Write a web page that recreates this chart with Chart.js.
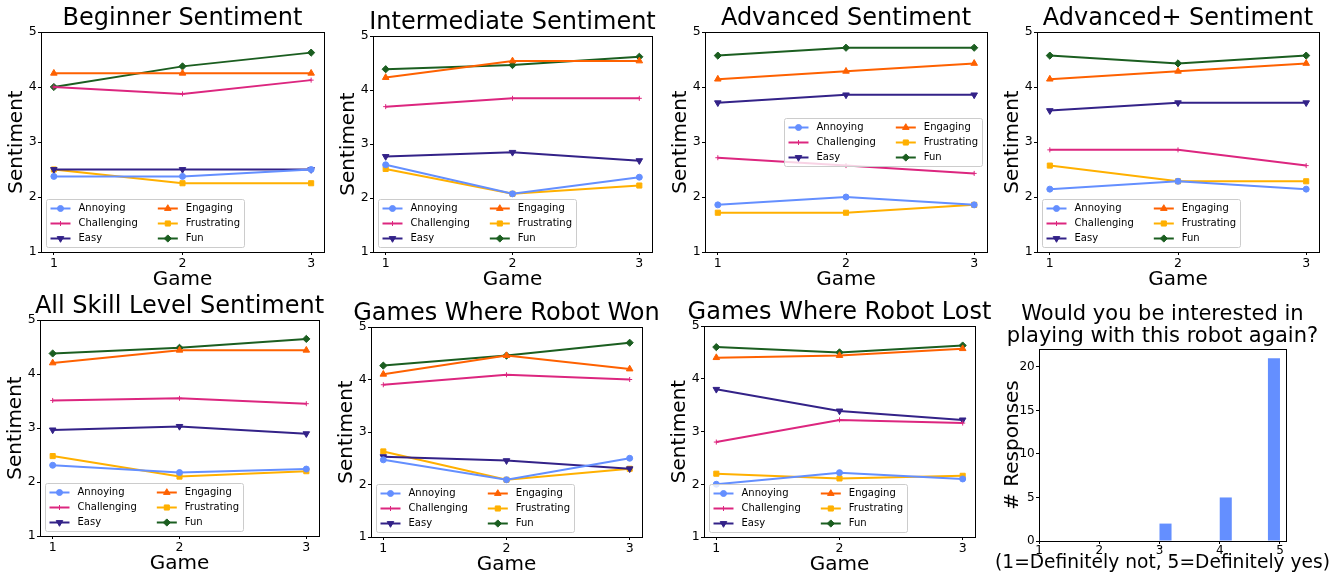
<!DOCTYPE html>
<html>
<head>
<meta charset="utf-8">
<script src="https://cdn.jsdelivr.net/npm/chart.js@4/dist/chart.umd.min.js"></script>
<style>
  html, body { margin: 0; padding: 0; background: #fff; }
  #fig { position: relative; width: 1332px; height: 575px; overflow: hidden; background: #fff; }
  #fig canvas { position: absolute; }
</style>
</head>
<body>
<div id="fig"></div>
<script>
// ---- data ----
var games = [1, 2, 3];
var traits = ['Annoying', 'Challenging', 'Easy', 'Engaging', 'Frustrating', 'Fun'];
var sentimentTicks = [1, 2, 3, 4, 5];

// rows follow the order of `traits`, columns follow `games`
var beginner = [
    [2.375, 2.375, 2.5],
    [4.0, 3.875, 4.125],
    [2.5, 2.5, 2.5],
    [4.25, 4.25, 4.25],
    [2.5, 2.25, 2.25],
    [4.0, 4.375, 4.625]
];
var intermediate = [
    [2.615, 2.077, 2.385],
    [3.692, 3.846, 3.846],
    [2.769, 2.846, 2.692],
    [4.231, 4.538, 4.538],
    [2.538, 2.077, 2.231],
    [4.385, 4.462, 4.615]
];
var advanced = [
    [1.857, 2.0, 1.857],
    [2.714, 2.571, 2.429],
    [3.714, 3.857, 3.857],
    [4.143, 4.286, 4.429],
    [1.714, 1.714, 1.857],
    [4.571, 4.714, 4.714]
];
var advancedPlus = [
    [2.143, 2.286, 2.143],
    [2.857, 2.857, 2.571],
    [3.571, 3.714, 3.714],
    [4.143, 4.286, 4.429],
    [2.571, 2.286, 2.286],
    [4.571, 4.429, 4.571]
];
var allLevels = [
    [2.31, 2.175, 2.24],
    [3.51, 3.55, 3.45],
    [2.965, 3.03, 2.895],
    [4.205, 4.44, 4.44],
    [2.48, 2.10, 2.20],
    [4.38, 4.485, 4.65]
];
var robotWon = [
    [2.47, 2.09, 2.5],
    [3.9, 4.09, 4.0],
    [2.53, 2.455, 2.3],
    [4.1, 4.455, 4.2],
    [2.63, 2.09, 2.3],
    [4.265, 4.455, 4.7]
];
var robotLost = [
    [2.0, 2.22, 2.1],
    [2.8, 3.22, 3.16],
    [3.8, 3.39, 3.22],
    [4.4, 4.44, 4.57],
    [2.2, 2.11, 2.16],
    [4.6, 4.5, 4.63]
];

// histogram of "play again" answers (bin centres, bin width 0.2)
var responseBins = [3.1, 4.1, 4.9];
var responseCounts = [2, 5, 21];
var responseTicks = [1, 2, 3, 4, 5];
var countTicks = [0, 5, 10, 15, 20];

// ---- styles ----
var colors = ['#648FFF', '#DC267F', '#332288', '#FE6100', '#FFB000', '#1B5E20'];
var markers = [
    { style: 'circle', r: 3, rot: 0 },
    { style: 'cross', r: 2.5, rot: 0 },
    { style: 'triangle', r: 3.8, rot: 180 },
    { style: 'triangle', r: 3.8, rot: 0 },
    { style: 'rect', r: 3.6, rot: 0 },
    { style: 'rectRot', r: 3.6, rot: 0 }
];

// plot boxes [left, top, right, bottom] in page pixels
var panels = [
    { title: 'Beginner Sentiment', values: beginner, box: [41, 32, 324, 252], legend: 'lower left' },
    { title: 'Intermediate Sentiment', values: intermediate, box: [373, 36, 652, 252], legend: 'lower left' },
    { title: 'Advanced Sentiment', values: advanced, box: [705, 32, 987, 252], legend: 'center right' },
    { title: 'Advanced+ Sentiment', values: advancedPlus, box: [1037, 32, 1319, 252], legend: 'lower left' },
    { title: 'All Skill Level Sentiment', values: allLevels, box: [40, 320, 319, 536], legend: 'lower left' },
    { title: 'Games Where Robot Won', values: robotWon, box: [371, 327, 642, 537], legend: 'lower left' },
    { title: 'Games Where Robot Lost', values: robotLost, box: [704, 326, 975, 537], legend: 'lower left' }
];
var histBox = [1039, 349, 1286, 541];

var AXW = 44;   // room left of the plot for y ticks + label (mirrored on the right)
var TOP = 64;   // room above the plot for the title

Chart.defaults.font.family = '"DejaVu Sans", sans-serif';
Chart.defaults.color = '#000';

var fig = document.getElementById('fig');

function addCanvas(x, y, w, h) {
    var c = document.createElement('canvas');
    c.width = w;
    c.height = h;
    c.style.left = x + 'px';
    c.style.top = y + 'px';
    c.style.width = w + 'px';
    c.style.height = h + 'px';
    fig.appendChild(c);
    return c;
}

function titleOpts(text, size, lh) {
    var lines = Array.isArray(text) ? text.length : 1;
    var pb = 6 + 0.3 * size - lh / 2;
    return {
        display: true,
        text: text,
        color: '#000',
        font: { size: size, weight: 'normal', lineHeight: lh + 'px' },
        padding: { top: TOP - pb - lines * lh, bottom: pb }
    };
}

function axis(min, max, ticks, label, o) {
    return {
        type: 'linear',
        min: min,
        max: max,
        offset: false,
        afterBuildTicks: function(s) {
            s.ticks = ticks.map(function(v) { return { value: v }; });
        },
        afterFit: function(s) {
            if (s.isHorizontal()) s.height = o.size; else s.width = o.size;
        },
        border: { display: false },
        grid: { display: true, offset: false, drawOnChartArea: false, drawTicks: true, tickLength: 3, color: '#000' },
        ticks: {
            color: '#000',
            font: { size: o.tickSize },
            padding: o.tickPad,
            maxRotation: 0,
            autoSkip: false,
            callback: function(v) { return String(v); }
        },
        title: {
            display: !!label,
            text: label,
            color: '#000',
            font: { size: 20, lineHeight: 1.2 },
            padding: o.titlePad || 0
        }
    };
}

// empty axis on the right so the title stays centred over the plot
function spacer() {
    return {
        type: 'linear',
        position: 'right',
        display: true,
        afterFit: function(s) { s.width = AXW; },
        border: { display: false },
        grid: { display: false },
        ticks: { display: false }
    };
}

var framePlugin = {
    id: 'frame',
    afterDatasetsDraw: function(chart) {
        var ctx = chart.ctx, a = chart.chartArea;
        ctx.save();
        ctx.strokeStyle = '#000';
        ctx.lineWidth = 1;
        var l = Math.round(a.left) + 0.5, t = Math.round(a.top) + 0.5;
        var r = Math.round(a.right) + 0.5, b = Math.round(a.bottom) + 0.5;
        ctx.strokeRect(l, t, r - l, b - t);
        ctx.restore();
    }
};

var legendPlugin = {
    id: 'boxLegend',
    afterDatasetsDraw: function(chart, args, opts) {
        if (!opts || !opts.loc) return;
        var ctx = chart.ctx, a = chart.chartArea;
        var sets = chart.data.datasets;
        var fs = 10, pad = 4, handle = 20, gap = 8, colGap = 20, rowGap = 5, rowH = 10, axPad = 5;
        var rows = Math.ceil(sets.length / 2);
        ctx.save();
        ctx.font = fs + 'px "DejaVu Sans"';
        var cols = [sets.slice(0, rows), sets.slice(rows)];
        var colW = cols.map(function(c) {
            return Math.max.apply(null, c.map(function(d) { return ctx.measureText(d.label).width; }));
        });
        var W = 2 * pad + cols.length * (handle + gap) + colW[0] + colW[1] + colGap;
        var H = 2 * pad + rows * rowH + (rows - 1) * rowGap;
        var x0, y0;
        if (opts.loc === 'center right') {
            x0 = a.right - axPad - W;
            y0 = (a.top + a.bottom - H) / 2;
        } else {
            x0 = a.left + axPad;
            y0 = a.bottom - axPad - H;
        }
        x0 = Math.round(x0) + 0.5;
        y0 = Math.round(y0) + 0.5;
        ctx.beginPath();
        ctx.roundRect(x0, y0, Math.round(W), Math.round(H), 2);
        ctx.fillStyle = 'rgba(255,255,255,0.8)';
        ctx.fill();
        ctx.strokeStyle = '#cccccc';
        ctx.lineWidth = 1;
        ctx.stroke();

        var cx = x0 + pad;
        cols.forEach(function(col, ci) {
            col.forEach(function(d, ri) {
                var cy = y0 + pad + ri * (rowH + rowGap) + rowH / 2;
                ctx.strokeStyle = d.borderColor;
                ctx.lineWidth = d.borderWidth;
                ctx.beginPath();
                ctx.moveTo(cx, cy);
                ctx.lineTo(cx + handle, cy);
                ctx.stroke();
                ctx.fillStyle = d.backgroundColor;
                ctx.lineWidth = d.pointBorderWidth;
                Chart.helpers.drawPoint(ctx, {
                    pointStyle: d.pointStyle,
                    radius: d.pointRadius,
                    rotation: d.pointRotation,
                    borderWidth: d.pointBorderWidth
                }, cx + handle / 2, cy);
                ctx.fillStyle = '#000';
                ctx.textAlign = 'left';
                ctx.textBaseline = 'middle';
                ctx.fillText(d.label, cx + handle + gap, cy);
            });
            cx += handle + gap + colW[ci] + colGap;
        });
        ctx.restore();
    }
};

panels.forEach(function(p) {
    var l = p.box[0], t = p.box[1], r = p.box[2], b = p.box[3];
    var xH = 40;
    var cv = addCanvas(l - AXW, t - TOP, (r - l) + 2 * AXW, TOP + (b - t) + xH);
    new Chart(cv, {
        type: 'line',
        data: {
            datasets: traits.map(function(name, i) {
                return {
                    label: name,
                    data: games.map(function(g, j) { return { x: g, y: p.values[i][j] }; }),
                    borderColor: colors[i],
                    backgroundColor: colors[i],
                    borderWidth: 2,
                    tension: 0,
                    pointStyle: markers[i].style,
                    pointRadius: markers[i].r,
                    pointRotation: markers[i].rot,
                    pointBorderWidth: 1
                };
            })
        },
        options: {
            responsive: false,
            animation: false,
            events: [],
            layout: { padding: 0 },
            plugins: {
                legend: { display: false },
                tooltip: { enabled: false },
                title: titleOpts(p.title, 24, 24),
                boxLegend: { loc: p.legend }
            },
            scales: {
                x: axis(0.9, 3.1, games, 'Game', { size: xH, tickSize: 12.5, tickPad: 1, titlePad: { top: 0, bottom: 0 } }),
                y: axis(1, 5, sentimentTicks, 'Sentiment', { size: AXW, tickSize: 12.5, tickPad: 1.3, titlePad: { top: 8, bottom: 0 } }),
                yR: spacer()
            }
        },
        plugins: [framePlugin, legendPlugin]
    });
});

(function() {
    var l = histBox[0], t = histBox[1], r = histBox[2], b = histBox[3];
    var xH = 20, subH = 18;
    var cv = addCanvas(l - AXW, t - TOP, (r - l) + 2 * AXW, TOP + (b - t) + xH + subH);
    new Chart(cv, {
        type: 'bar',
        data: {
            datasets: [{
                label: 'Responses',
                data: responseBins.map(function(x, i) { return { x: x, y: responseCounts[i] }; }),
                backgroundColor: '#648FFF',
                borderWidth: 0,
                barPercentage: 1,
                categoryPercentage: 0.25
            }]
        },
        options: {
            responsive: false,
            animation: false,
            events: [],
            layout: { padding: 0 },
            plugins: {
                legend: { display: false },
                tooltip: { enabled: false },
                title: titleOpts(['Would you be interested in', 'playing with this robot again?'], 21, 22),
                subtitle: {
                    display: true,
                    position: 'bottom',
                    text: '(1=Definitely not, 5=Definitely yes)',
                    color: '#000',
                    font: { size: 20, weight: 'normal', lineHeight: '4px' },
                    padding: { top: 0, bottom: subH - 4 }
                }
            },
            scales: {
                x: axis(1, 5.1, responseTicks, '', { size: xH, tickSize: 12, tickPad: 0 }),
                y: axis(0, 22.05, countTicks, '# Responses', { size: AXW, tickSize: 12, tickPad: 1.3, titlePad: { top: 6, bottom: 0 } }),
                yR: spacer()
            }
        },
        plugins: [framePlugin]
    });
})();
</script>
</body>
</html>
